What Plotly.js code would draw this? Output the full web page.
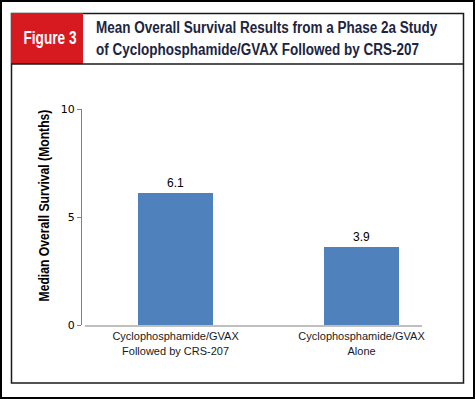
<!DOCTYPE html>
<html>
<head>
<meta charset="utf-8">
<script src="https://cdn.plot.ly/plotly-3.0.1.min.js"></script>
<style>html,body{margin:0;padding:0;background:#fff;}#chart{width:476px;height:399px;}</style>
</head>
<body>
<div id="chart"></div>
<script>
const categories = ["Cyclophosphamide/GVAX<br>Followed by CRS-207", "Cyclophosphamide/GVAX<br>Alone"];
const barHeights = [6.1, 3.6];
const barLabels = ["6.1", "3.9"];
const yTicks = [0, 5, 10];
const figureLabel = "Figure 3";
const chartTitle = "Mean Overall Survival Results from a Phase 2a Study<br>of Cyclophosphamide/GVAX Followed by CRS-207";
const yTitle = "Median Overall Survival (Months)";

const W = 476, H = 399;
const mL = 81, mR = 54, mT = 109, mB = 74;
const PW = W - mL - mR, PH = H - mT - mB;
const px = x => (x - mL) / PW;
const py = y => (H - mB - y) / PH;

const trace = {
  type: 'bar',
  x: [0, 1],
  y: barHeights,
  width: 0.403,
  marker: {color: '#4f81bd', line: {width: 0}},
  text: barLabels,
  texttemplate: '%{text}',
  textposition: 'outside',
  textfont: {family: 'Liberation Sans, Arial, sans-serif', size: 12, color: '#000'},
  cliponaxis: false,
  hoverinfo: 'none'
};

const condensed = 'Liberation Sans, Arial, sans-serif';

const layout = {
  width: W, height: H,
  margin: {l: mL, r: mR, t: mT, b: mB, pad: 0},
  paper_bgcolor: '#fff', plot_bgcolor: 'rgba(0,0,0,0)',
  showlegend: false,
  bargap: 0,
  xaxis: {
    domain: [px(85), 1],
    range: [-0.487, 1.325],
    tickmode: 'array', tickvals: [0, 1], ticktext: categories,
    showline: true, linecolor: '#bfbfbf', linewidth: 2,
    showgrid: false, zeroline: false, ticks: '',
    tickfont: {family: 'Liberation Sans, Arial, sans-serif', size: 11, color: '#1a1a1a'},
    fixedrange: true
  },
  yaxis: {
    range: [0, 10],
    anchor: 'free', position: 0,
    tickmode: 'array', tickvals: yTicks, ticktext: yTicks.map(String),
    showline: true, linecolor: '#808080', linewidth: 1,
    ticks: 'outside', ticklen: 4, tickcolor: '#808080', tickwidth: 1,
    showgrid: false, zeroline: false,
    tickfont: {family: 'DejaVu Sans, Verdana, sans-serif', size: 11, color: '#000'},
    fixedrange: true
  },
  shapes: [
    {type: 'rect', xref: 'paper', yref: 'paper', x0: px(1), x1: px(474), y0: py(1), y1: py(398), line: {color: '#000', width: 2}, layer: 'above'},
    {type: 'rect', xref: 'paper', yref: 'paper', x0: px(11.5), x1: px(463.5), y0: py(13.5), y1: py(383), line: {color: '#1a1a1a', width: 1.5}, layer: 'above'},
    {type: 'rect', xref: 'paper', yref: 'paper', x0: px(11), x1: px(83), y0: py(13), y1: py(64), fillcolor: '#d71920', line: {width: 0}},
    {type: 'line', xref: 'paper', yref: 'paper', x0: px(11), x1: px(464), y0: py(64), y1: py(64), line: {color: '#1a1a1a', width: 1.5}}
  ],
  annotations: [
    {xref: 'paper', yref: 'paper', x: px(49.5), y: py(38), text: '<b>' + figureLabel + '</b>', showarrow: false,
     xanchor: 'center', yanchor: 'middle', font: {family: condensed, size: 18, color: '#fff'}},
    {xref: 'paper', yref: 'paper', x: px(94), y: py(39), text: '<b>' + chartTitle + '</b>', showarrow: false,
     xanchor: 'left', yanchor: 'middle', align: 'left', font: {family: condensed, size: 17, color: '#1c2541'}},
    {xref: 'paper', yref: 'paper', x: px(44), y: py(206), text: '<b>' + yTitle + '</b>', showarrow: false, textangle: -90,
     xanchor: 'center', yanchor: 'middle', font: {family: condensed, size: 14, color: '#000'}}
  ]
};

// target rendered widths (px) used to emulate the condensed typeface of the original
const condenseTargets = [{w: 53, anchor: 'center'}, {w: 342, anchor: 'left'}, {w: 192, anchor: 'center'}];

Plotly.newPlot('chart', [trace], layout, {displayModeBar: false, staticPlot: true}).then(gd => {
  const anns = gd.querySelectorAll('g.annotation');
  anns.forEach(a => {
    const idx = +a.getAttribute('data-index');
    const t = condenseTargets[idx];
    if (!t) return;
    const txt = a.querySelector('text.annotation-text');
    if (!txt) return;
    const bb = txt.getBBox();
    if (!bb.width) return;
    const s = t.w / bb.width;
    const cx = t.anchor === 'left' ? bb.x : bb.x + bb.width / 2;
    const prev = txt.getAttribute('transform') || '';
    txt.setAttribute('transform', `translate(${cx},0) scale(${s},1) translate(${-cx},0) ` + prev);
  });
});
</script>
</body>
</html>
